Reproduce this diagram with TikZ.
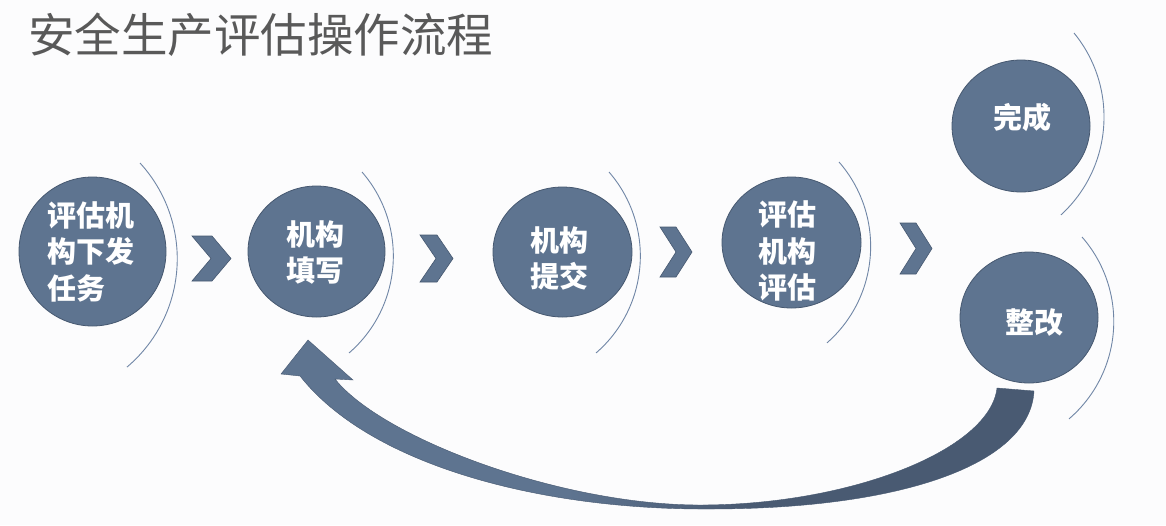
\documentclass[tikz,border=0pt]{standalone}
\usepackage{fontspec}
\newfontfamily\cjk{Noto Sans CJK SC}
\usetikzlibrary{shapes.geometric}
\definecolor{bg}{RGB}{252,252,253}
\definecolor{cfill}{RGB}{94,116,144}
\definecolor{cedge}{RGB}{70,88,112}
\definecolor{arcc}{RGB}{112,134,166}
\definecolor{aL}{RGB}{94,116,144}
\definecolor{aR}{RGB}{73,90,114}
\definecolor{ttl}{RGB}{89,89,89}
\pgfdeclarehorizontalshading{arrowshade}{100bp}{color(0bp)=(aL); color(44bp)=(aL); color(56bp)=(aR); color(100bp)=(aR)}
\begin{document}
\begin{tikzpicture}[x=1pt,y=-1pt,
  disc/.style={ellipse, fill=cfill, draw=cedge, line width=0.8pt, inner sep=0pt},
  lbl/.style={text=white, font=\cjk\bfseries\fontsize{29}{36.5}\selectfont, align=center, inner sep=0pt},
  chev/.style={fill=cfill, draw=cedge, line width=0.6pt},
  deco/.style={draw=arcc, line width=0.9pt}]
\fill[bg] (0,0) rectangle (1166,525);
\useasboundingbox (0,0) rectangle (1166,525);
% title
\node[anchor=west, text=ttl, font=\cjk\fontsize{46.5}{50}\selectfont, inner sep=0pt] (title) at (28,35) {安全生产评估操作流程};
% decorative arcs
\draw[deco] (140,163) arc[start angle=-42.5, end angle=49.8, radius=141.8];
\draw[deco] (362,172) arc[start angle=-40.9, end angle=49.1, radius=128.3];
\draw[deco] (609,172) arc[start angle=-40.9, end angle=49.1, radius=128.3];
\draw[deco] (839,162) arc[start angle=-41.1, end angle=48.7, radius=128.4];
\draw[deco] (1074,33) arc[start angle=-39.3, end angle=47.5, radius=132.7];
\draw[deco] (1082,237) arc[start angle=-41.2, end angle=49.4, radius=128.3];
% circles
\node[disc, minimum width=147pt, minimum height=149pt] (c1) at (92.5,251.5) {};
\node[disc, minimum width=137pt, minimum height=131pt] (c2) at (316.5,251.5) {};
\node[disc, minimum width=139pt, minimum height=130pt] (c3) at (562.5,252) {};
\node[disc, minimum width=139pt, minimum height=131pt] (c4) at (791.5,242.5) {};
\node[disc, minimum width=138pt, minimum height=132pt] (c5) at (1021,126) {};
\node[disc, minimum width=138pt, minimum height=131pt] (c6) at (1029,317.5) {};
% labels
\node[lbl, align=left] (t1) at (91,251.5) {评估机\\构下发\\任务};
\node[lbl] (t2) at (315,252.5) {机构\\填写};
\node[lbl] (t3) at (559,258.5) {机构\\提交};
\node[lbl] (t4) at (787,251) {评估\\机构\\评估};
\node[lbl] (t5) at (1022,117) {完成};
\node[lbl] (t6) at (1034,323) {整改};
% chevrons
\path[chev] (192,236) -- (212,236) -- (231,258.5) -- (212,281) -- (192,281) -- (211,258.5) -- cycle;
\path[chev] (420,235) -- (437,235) -- (453,258.5) -- (437,282) -- (420,282) -- (436,258.5) -- cycle;
\path[chev] (660,227) -- (676,227) -- (692,252) -- (676,277) -- (660,277) -- (676,252) -- cycle;
\path[chev] (900,223) -- (916,223) -- (932,248.5) -- (916,274) -- (900,274) -- (916,248.5) -- cycle;
% curved return arrow from c6 back to c2
\coordinate (tailR) at (1034,391);
\coordinate (tailL) at (997,388);
\coordinate (tip) at (308,340);
\shadedraw[shading=arrowshade, draw=cedge, line width=0.4pt]
  (tailR) .. controls (1030,465) and (900,509) .. (710,509)
          .. controls (540,510) and (370,465) .. (300,376)
  -- (281,374) -- (tip) -- (353,380) -- (335,379)
  .. controls (382,438) and (560,505) .. (700,505)
  .. controls (850,505) and (990,450) .. (tailL)
  -- cycle;
\end{tikzpicture}
\end{document}
